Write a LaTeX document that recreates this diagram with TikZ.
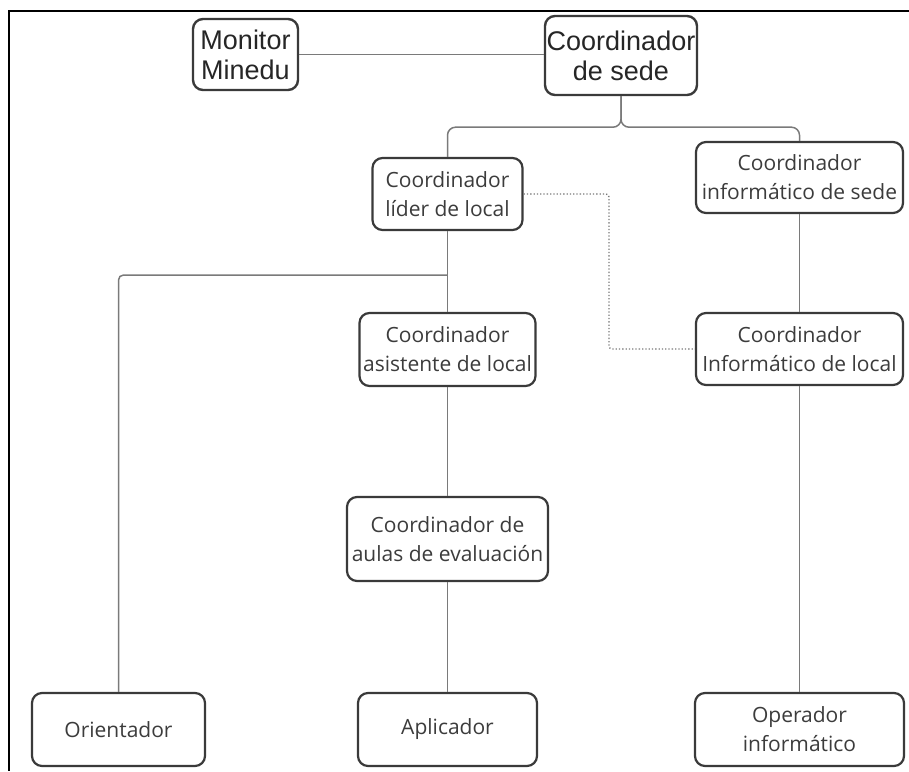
\documentclass[tikz,border=0pt]{standalone}
\usepackage{fontspec}
\setmainfont{Open Sans}
\newfontfamily\arialfont{Liberation Sans}
\usetikzlibrary{positioning}
\definecolor{boxline}{HTML}{3A3A3A}
\definecolor{boxtext}{HTML}{3C3C3C}
\definecolor{linkgray}{HTML}{7A7A7A}
\tikzset{
  orgbox/.style={draw=boxline, line width=2.2pt, rounded corners=10pt, fill=white,
    inner sep=0pt, align=center, text=boxtext,
    font=\fontsize{21}{29}\selectfont},
  topbox/.style={orgbox, line width=2.4pt, text=black!85,
    font=\arialfont\fontsize{27}{30}\selectfont},
  conn/.style={draw=linkgray, line width=1.5pt},
  dotlink/.style={draw=linkgray, line width=1.3pt, dotted},
}
\begin{document}
\begin{tikzpicture}[x=1pt, y=-1pt]
\useasboundingbox (0,0) rectangle (909,771);
% outer frame (top and left edges)
\draw[black, line width=2.5pt] (909,11) -- (9,11) -- (9,771);

% top row
\node[topbox, minimum width=105pt, minimum height=71pt] (monitor) at (245.5,54.5) {Monitor\\Minedu};
\node[topbox, minimum width=152pt, minimum height=79pt] (sede) at (621,55.5) {Coordinador\\de sede};

% second level
\node[orgbox, minimum width=150pt, minimum height=72pt] (lider) at (447.5,194) {Coordinador\\líder de local};
\node[orgbox, minimum width=207pt, minimum height=71pt] (infsede) at (799.5,177.5) {Coordinador\\informático de sede};

% third level
\node[orgbox, minimum width=176pt, minimum height=73pt] (asist) at (447.5,349.5) {Coordinador\\asistente de local};
\node[orgbox, minimum width=207pt, minimum height=72pt] (inflocal) at (799.5,349) {Coordinador\\Informático de local};

% fourth level
\node[orgbox, minimum width=201pt, minimum height=84pt] (aulas) at (447.5,539) {Coordinador de\\aulas de evaluación};

% bottom row
\node[orgbox, minimum width=173pt, minimum height=73pt] (orient) at (118.5,729.5) {Orientador};
\node[orgbox, minimum width=179pt, minimum height=73pt] (aplic) at (447.5,729.5) {Aplicador};
\node[orgbox, minimum width=209pt, minimum height=73pt] (oper) at (799.5,729.5) {Operador\\informático};

% connectors
\draw[conn] (monitor.east) -- (monitor.east -| sede.west);
\draw[conn, rounded corners=8pt] (sede.south) -- ++(0,31) -| (lider.north);
\draw[conn, rounded corners=8pt] (sede.south) -- ++(0,31) -| (infsede.north);
\draw[conn] (lider.south) -- (asist.north);
\coordinate (tee) at (447.5,275);
\draw[conn, rounded corners=5pt] (tee) -| (orient.north);
\draw[conn] (asist.south) -- (aulas.north);
\draw[conn] (aulas.south) -- (aplic.north);
\draw[conn] (infsede.south) -- (inflocal.north);
\draw[conn] (inflocal.south) -- (oper.north);
\draw[dotlink, rounded corners=3pt] (lider.east) -- (609,194) |- (inflocal.west);
\end{tikzpicture}
\end{document}
